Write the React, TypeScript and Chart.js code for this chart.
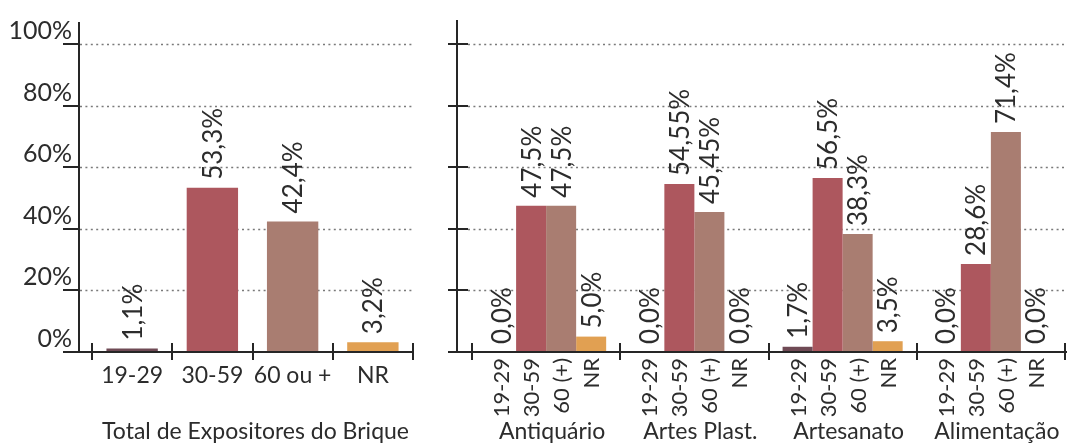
import React, { useEffect, useRef } from "react";
import { Chart, registerables } from "chart.js";

Chart.register(...registerables);

// ---- data -------------------------------------------------------------
const TOTAL_TITLE = "Total de Expositores do Brique";
const TOTAL_AGES = ["19-29", "30-59", "60 ou +", "NR"];
const TOTAL_VALUES = [1.1, 53.3, 42.4, 3.2];

const SECTORS = ["Antiquário", "Artes Plast.", "Artesanato", "Alimentação"];
const SECTOR_AGES = ["19-29", "30-59", "60 (+)", "NR"];
const AGE_19_29 = [0, 0, 1.7, 0];
const AGE_30_59 = [47.5, 54.55, 56.5, 28.6];
const AGE_60_PLUS = [47.5, 45.45, 38.3, 71.4];
const AGE_NR = [5.0, 0, 3.5, 0];

const Y_TICKS = [0, 20, 40, 60, 80, 100];
const Y_TICK_LABELS = ["0%", "20%", "40%", "60%", "80%", "100%"];

// ---- styling ----------------------------------------------------------
const AGE_COLORS = ["#6f4a55", "#ad575e", "#a97d71", "#e1a052"];
const TEXT = "#2c2c2c";
const AXIS = "#262626";
const GRID = "#7a7a7a";
const FONT = "Lato, 'Open Sans', sans-serif";

const fmt = (v: number) => {
  const dec = (String(v).split(".")[1] || "").length;
  return v.toFixed(Math.max(1, dec)).replace(".", ",") + "%";
};

type PanelOpts = {
  axisX: number;
  axisTop: number;
  yTickFrom: number;
  yTickTo: number;
  xAxisFrom: number;
  xAxisTo: number;
  gridFrom: number;
  gridTo: number;
  yLabels: boolean;
  flatLabels?: string[];
  rotatedLabels?: string[];
  groupLabels?: string[];
  title?: string;
};

// Draws the hand-styled axes, dotted grid, rotated value labels and category texts.
const panelPlugin = {
  id: "panel",
  beforeDatasetsDraw(chart: any, _args: any, opts: PanelOpts) {
    const ctx = chart.ctx;
    const y = chart.scales.y;
    ctx.save();
    ctx.strokeStyle = GRID;
    ctx.lineWidth = 1.6;
    ctx.setLineDash([2, 3.4]);
    for (const t of Y_TICKS) {
      if (t === 0) continue;
      const py = Math.round(y.getPixelForValue(t)) + 0.5;
      ctx.beginPath();
      ctx.moveTo(opts.gridFrom, py);
      ctx.lineTo(opts.gridTo, py);
      ctx.stroke();
    }
    ctx.restore();
  },
  afterDatasetsDraw(chart: any, _args: any, opts: PanelOpts) {
    const ctx = chart.ctx;
    const y = chart.scales.y;
    const x = chart.scales.x;
    const y0 = Math.round(y.getPixelForValue(0));
    ctx.save();
    ctx.strokeStyle = AXIS;
    ctx.lineWidth = 2;
    ctx.setLineDash([]);

    // vertical axis
    ctx.beginPath();
    ctx.moveTo(opts.axisX, opts.axisTop);
    ctx.lineTo(opts.axisX, y0);
    ctx.stroke();
    for (const t of Y_TICKS) {
      if (t === 0) continue;
      const py = Math.round(y.getPixelForValue(t));
      ctx.beginPath();
      ctx.moveTo(opts.yTickFrom, py);
      ctx.lineTo(opts.yTickTo, py);
      ctx.stroke();
    }

    // horizontal axis with ticks at category boundaries
    ctx.beginPath();
    ctx.moveTo(opts.xAxisFrom, y0);
    ctx.lineTo(opts.xAxisTo, y0);
    ctx.stroke();
    const n = chart.data.labels.length;
    const step = x.getPixelForValue(1) - x.getPixelForValue(0);
    for (let i = 0; i <= n; i++) {
      const bx = Math.round(x.getPixelForValue(0) - step / 2 + i * step);
      ctx.beginPath();
      ctx.moveTo(bx, y0 - 9);
      ctx.lineTo(bx, y0 + 8);
      ctx.stroke();
    }

    ctx.fillStyle = TEXT;

    // y tick labels
    if (opts.yLabels) {
      ctx.font = `25px ${FONT}`;
      ctx.textAlign = "right";
      ctx.textBaseline = "alphabetic";
      Y_TICKS.forEach((t, i) => {
        const py = y.getPixelForValue(t);
        ctx.fillText(Y_TICK_LABELS[i], opts.yTickFrom + 9, py - 5);
      });
    }

    // rotated value labels above each bar
    ctx.font = `26px ${FONT}`;
    ctx.textAlign = "left";
    ctx.textBaseline = "alphabetic";
    chart.data.datasets.forEach((ds: any, di: number) => {
      const meta = chart.getDatasetMeta(di);
      meta.data.forEach((el: any, i: number) => {
        ctx.save();
        ctx.translate(el.x, el.y - 8);
        ctx.rotate(-Math.PI / 2);
        ctx.fillText(fmt(ds.data[i]), 0, 9.5);
        ctx.restore();
      });
    });

    // horizontal category labels (total panel)
    if (opts.flatLabels) {
      ctx.font = `23px ${FONT}`;
      ctx.textAlign = "center";
      opts.flatLabels.forEach((lab, i) => {
        ctx.fillText(lab, x.getPixelForValue(i), 383);
      });
    }

    // rotated age labels under every bar (sector panel)
    if (opts.rotatedLabels) {
      ctx.font = `22px ${FONT}`;
      ctx.textAlign = "right";
      chart.data.datasets.forEach((_ds: any, di: number) => {
        const meta = chart.getDatasetMeta(di);
        meta.data.forEach((el: any) => {
          ctx.save();
          ctx.translate(el.x, 358);
          ctx.rotate(-Math.PI / 2);
          ctx.fillText(opts.rotatedLabels![di], 0, 8);
          ctx.restore();
        });
      });
    }

    // group names
    ctx.font = `23px ${FONT}`;
    ctx.textAlign = "center";
    if (opts.groupLabels) {
      opts.groupLabels.forEach((lab, i) => {
        ctx.fillText(lab, x.getPixelForValue(i) + 6, 439);
      });
    }
    if (opts.title) {
      const a = chart.chartArea;
      ctx.fillText(opts.title, (a.left + a.right) / 2 + 3, 439);
    }
    ctx.restore();
  },
};

function PanelChart({ left, width, config }: { left: number; width: number; config: any }) {
  const ref = useRef<HTMLCanvasElement>(null);
  useEffect(() => {
    if (!ref.current) return;
    const chart = new Chart(ref.current, config);
    return () => chart.destroy();
  }, [config]);
  return (
    <canvas
      ref={ref}
      width={width}
      height={443}
      style={{ position: "absolute", left, top: 0, width, height: 443 }}
    />
  );
}

const hiddenScales = {
  x: { display: false, grid: { display: false } },
  y: { display: false, min: 0, max: 100, grid: { display: false } },
};

const totalConfig = {
  type: "bar",
  data: {
    labels: TOTAL_AGES,
    datasets: [
      {
        data: TOTAL_VALUES,
        backgroundColor: AGE_COLORS,
        borderWidth: 0,
        barPercentage: 0.64,
        categoryPercentage: 1,
      },
    ],
  },
  options: {
    responsive: false,
    animation: false,
    layout: { padding: { left: 92, right: 17, top: 44, bottom: 91 } },
    scales: hiddenScales,
    plugins: {
      legend: { display: false },
      tooltip: { enabled: false },
      panel: {
        axisX: 79,
        axisTop: 22,
        yTickFrom: 63,
        yTickTo: 79,
        xAxisFrom: 63,
        xAxisTo: 413,
        gridFrom: 80,
        gridTo: 413,
        yLabels: true,
        flatLabels: TOTAL_AGES,
        title: TOTAL_TITLE,
      },
    },
  },
  plugins: [panelPlugin],
};

const sectorSeries = [AGE_19_29, AGE_30_59, AGE_60_PLUS, AGE_NR];

const sectorConfig = {
  type: "bar",
  data: {
    labels: SECTORS,
    datasets: sectorSeries.map((values, i) => ({
      label: SECTOR_AGES[i],
      data: values,
      backgroundColor: AGE_COLORS[i],
      borderWidth: 0,
      barPercentage: 1,
      categoryPercentage: 0.81,
    })),
  },
  options: {
    responsive: false,
    animation: false,
    layout: { padding: { left: 42, right: 2, top: 44, bottom: 91 } },
    scales: hiddenScales,
    plugins: {
      legend: { display: false },
      tooltip: { enabled: false },
      panel: {
        axisX: 27,
        axisTop: 20,
        yTickFrom: 18,
        yTickTo: 38,
        xAxisFrom: 18,
        xAxisTo: 637,
        gridFrom: 38,
        gridTo: 635,
        yLabels: false,
        rotatedLabels: SECTOR_AGES,
        groupLabels: SECTORS,
      },
    },
  },
  plugins: [panelPlugin],
};

export default function App() {
  return (
    <div
      style={{
        position: "absolute",
        left: 0,
        top: 0,
        width: 1067,
        height: 443,
        background: "#ffffff",
        overflow: "hidden",
      }}
    >
      <PanelChart left={0} width={430} config={totalConfig} />
      <PanelChart left={430} width={637} config={sectorConfig} />
    </div>
  );
}
